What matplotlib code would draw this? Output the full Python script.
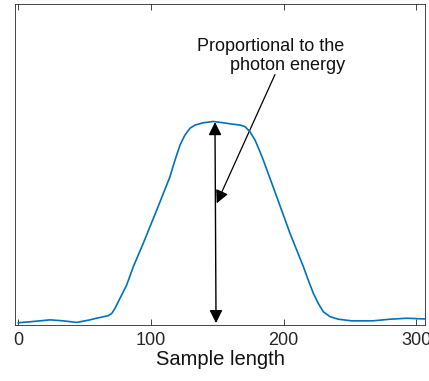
import matplotlib
matplotlib.use("Agg")
import matplotlib.pyplot as plt
from matplotlib.patches import FancyArrowPatch

# Data (arbitrary amplitude units)
sample = [0, 8.8, 23.9, 33.7, 44, 54, 57.8, 67.8, 70.4, 72.9, 76.6, 81.7, 86.7, 94.2,
          104.3, 114.3, 118.1, 121.9, 125.6, 129.4, 133.2, 139.4, 146.9, 154.5, 160.8,
          167.1, 170.8, 174.6, 178.4, 182.1, 184.6, 194.7, 204.7, 214.8, 218.5, 222.3,
          226.1, 229.9, 234.9, 241.1, 251.2, 267.3, 280, 292.7, 305, 307]
signal = [0.007, 0.010, 0.016, 0.013, 0.008, 0.016, 0.020, 0.029, 0.036, 0.052, 0.083,
          0.125, 0.182, 0.255, 0.358, 0.462, 0.514, 0.561, 0.592, 0.613, 0.623, 0.630,
          0.634, 0.630, 0.626, 0.623, 0.618, 0.602, 0.576, 0.540, 0.514, 0.400, 0.286,
          0.182, 0.140, 0.099, 0.067, 0.041, 0.026, 0.018, 0.013, 0.013, 0.018, 0.021,
          0.019, 0.019]
xticks = [0, 100, 200, 300]
xlabel = "Sample length"
note = "Proportional to the\nphoton energy"
peak_x = [148.2, 149.0]
peak_y = [0.632, 0.006]
note_tail = (193.4, 0.780)
note_head = (149.5, 0.379)

plt.rcParams['font.family'] = ['Liberation Sans', 'DejaVu Sans']
fig = plt.figure(figsize=(4.29, 3.81), dpi=100)
ax = fig.add_axes([0.035, 0.147, 0.9557, 0.8425])

line, = ax.plot(sample, signal, color='#0072BD', lw=1.2)
line.set_solid_joinstyle('round')
ax.set_xlim(-2.5, 306.5)
ax.set_ylim(0, 1)
ax.set_xticks(xticks)
ax.set_yticks([])
ax.tick_params(axis='x', direction='in', length=4, width=0.6, color='#262626',
               labelsize=13, labelcolor='#262626', top=True, pad=5)
for s in ax.spines.values():
    s.set_color('#262626')
    s.set_linewidth(0.6)
ax.set_xlabel(xlabel, fontsize=14.5, color='#111111', labelpad=1)

arr1 = FancyArrowPatch((peak_x[0], peak_y[0]), (peak_x[1], peak_y[1]),
                       arrowstyle='<|-|>,head_length=6,head_width=3', color='black',
                       lw=1.0, shrinkA=0, shrinkB=0, mutation_scale=1.3)
ax.add_patch(arr1)
arr2 = FancyArrowPatch(note_tail, note_head,
                       arrowstyle='-|>,head_length=6,head_width=3', color='black',
                       lw=0.9, shrinkA=0, shrinkB=0, mutation_scale=1.3)
ax.add_patch(arr2)

ax.text(246, 0.838, note, fontsize=13, ha='right', va='center', color='#111111',
        linespacing=1.15)

fig.savefig("out.png", dpi=100)
